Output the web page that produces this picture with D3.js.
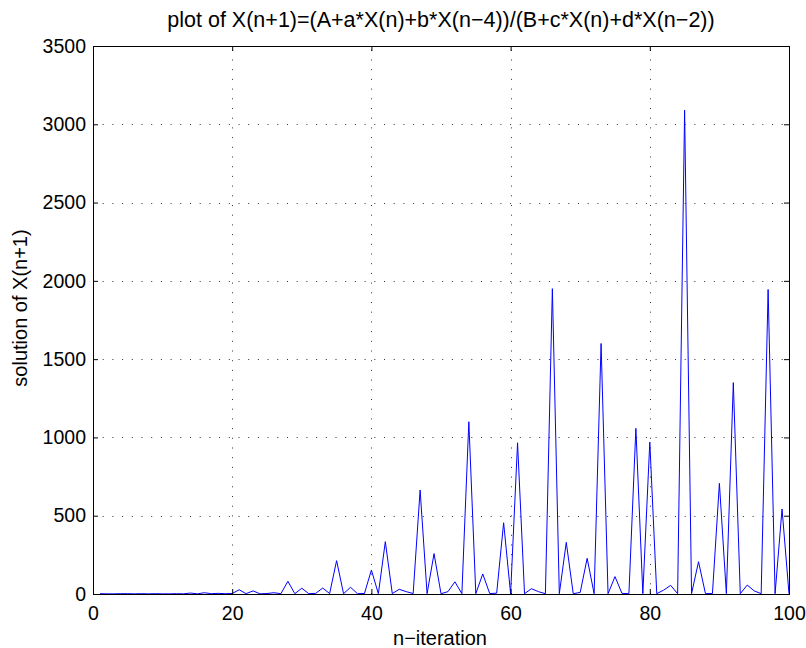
<!DOCTYPE html>
<html>
<head>
<meta charset="utf-8">
<script src="https://cdn.jsdelivr.net/npm/d3@7"></script>
<style>
  body { margin: 0; background: #fff; }
  svg text { font-family: "Liberation Sans", Arial, Helvetica, sans-serif; fill: #000; }
</style>
</head>
<body>
<svg id="chart" width="806" height="648"></svg>
<script>
// n = 1..100
const iterations = d3.range(1, 101);
const solution = [
  2, 1, 1, 2, 2, 1, 2, 1, 2, 1,
  1, 2, 1, 6, 1, 8, 2, 4, 2, 3,
  27, 2, 20, 1, 3, 8, 2, 81, 2, 37,
  2, 4, 38, 3, 213, 2, 43, 2, 3, 153,
  2, 334, 3, 30, 15, 3, 664, 2, 258, 2,
  15, 78, 2, 1100, 2, 128, 3, 5, 455, 2,
  966, 2, 34, 15, 2, 1950, 2, 330, 2, 10,
  228, 2, 1600, 2, 111, 4, 2, 1058, 2, 970,
  2, 25, 55, 2, 3090, 2, 206, 2, 3, 707,
  2, 1350, 2, 57, 20, 2, 1945, 2, 543, 2,
];
const xTicks = [0, 20, 40, 60, 80, 100];
const yTicks = [0, 500, 1000, 1500, 2000, 2500, 3000, 3500];

const TITLE = 'plot of X(n+1)=(A+a*X(n)+b*X(n\u22124))/(B+c*X(n)+d*X(n\u22122))';
const X_LABEL = 'n\u2212iteration';
const Y_LABEL = 'solution of X(n+1)';

const PLOT = {left: 93, right: 789, top: 46, bottom: 594};
const TICK_LEN = 5;

const svg = d3.select('#chart');

const x = d3.scaleLinear().domain([0, 100]).range([PLOT.left, PLOT.right]);
const y = d3.scaleLinear().domain([0, 3500]).range([PLOT.bottom, PLOT.top]);

// dotted grid
const grid = svg.append('g')
  .attr('stroke', '#333')
  .attr('stroke-width', 1)
  .attr('stroke-dasharray', '1,8.7');

grid.selectAll('line.vx')
  .data(xTicks.slice(1, -1))
  .join('line')
  .attr('class', 'vx')
  .attr('x1', (d) => Math.round(x(d)) + 0.5)
  .attr('x2', (d) => Math.round(x(d)) + 0.5)
  .attr('y1', PLOT.bottom)
  .attr('y2', PLOT.top);

grid.selectAll('line.hy')
  .data(yTicks.slice(1, -1))
  .join('line')
  .attr('class', 'hy')
  .attr('x1', PLOT.left)
  .attr('x2', PLOT.right)
  .attr('y1', (d) => Math.round(y(d)) + 0.5)
  .attr('y2', (d) => Math.round(y(d)) + 0.5);

// data line
const line = d3.line()
  .x((d, i) => x(iterations[i]))
  .y((d) => y(d));

svg.append('path')
  .datum(solution)
  .attr('fill', 'none')
  .attr('stroke', '#0000ff')
  .attr('stroke-width', 1)
  .attr('d', line);

// axes: bottom/left with labels, top/right ticks only (inward)
const tickFont = 19.5;
const labelFont = 20;
const titleFont = 21.5;
const fmt = d3.format('d');

const bottomAxis = svg.append('g')
  .attr('transform', `translate(0,${PLOT.bottom})`)
  .call(d3.axisBottom(x).tickValues(xTicks).tickSize(-TICK_LEN).tickFormat(fmt).tickSizeOuter(0));
const topAxis = svg.append('g')
  .attr('transform', `translate(0,${PLOT.top})`)
  .call(d3.axisTop(x).tickValues(xTicks).tickSize(-TICK_LEN).tickFormat('').tickSizeOuter(0));
const leftAxis = svg.append('g')
  .attr('transform', `translate(${PLOT.left},0)`)
  .call(d3.axisLeft(y).tickValues(yTicks).tickSize(-TICK_LEN).tickPadding(7).tickFormat(fmt).tickSizeOuter(0));
const rightAxis = svg.append('g')
  .attr('transform', `translate(${PLOT.right},0)`)
  .call(d3.axisRight(y).tickValues(yTicks).tickSize(-TICK_LEN).tickFormat('').tickSizeOuter(0));

[bottomAxis, topAxis, leftAxis, rightAxis].forEach((axis) => {
  axis.select('.domain').remove();
  axis.selectAll('line').attr('stroke', '#000');
  axis.selectAll('text')
    .style('font-family', '"Liberation Sans", Arial, sans-serif')
    .style('font-size', `${tickFont}px`)
    .attr('fill', '#000');
});
bottomAxis.selectAll('text').attr('dy', '0.71em').attr('y', 12);

// box
svg.append('rect')
  .attr('x', PLOT.left + 0.5)
  .attr('y', PLOT.top + 0.5)
  .attr('width', PLOT.right - PLOT.left)
  .attr('height', PLOT.bottom - PLOT.top)
  .attr('fill', 'none')
  .attr('stroke', '#000')
  .attr('stroke-width', 1);

// labels
svg.append('text')
  .attr('x', (PLOT.left + PLOT.right) / 2)
  .attr('y', 27)
  .attr('text-anchor', 'middle')
  .style('font-size', `${titleFont}px`)
  .text(TITLE);

svg.append('text')
  .attr('x', 440)
  .attr('y', 645)
  .attr('text-anchor', 'middle')
  .style('font-size', `${labelFont}px`)
  .text(X_LABEL);

svg.append('text')
  .attr('transform', 'translate(27,308) rotate(-90)')
  .attr('text-anchor', 'middle')
  .style('font-size', `${labelFont}px`)
  .text(Y_LABEL);
</script>
</body>
</html>
